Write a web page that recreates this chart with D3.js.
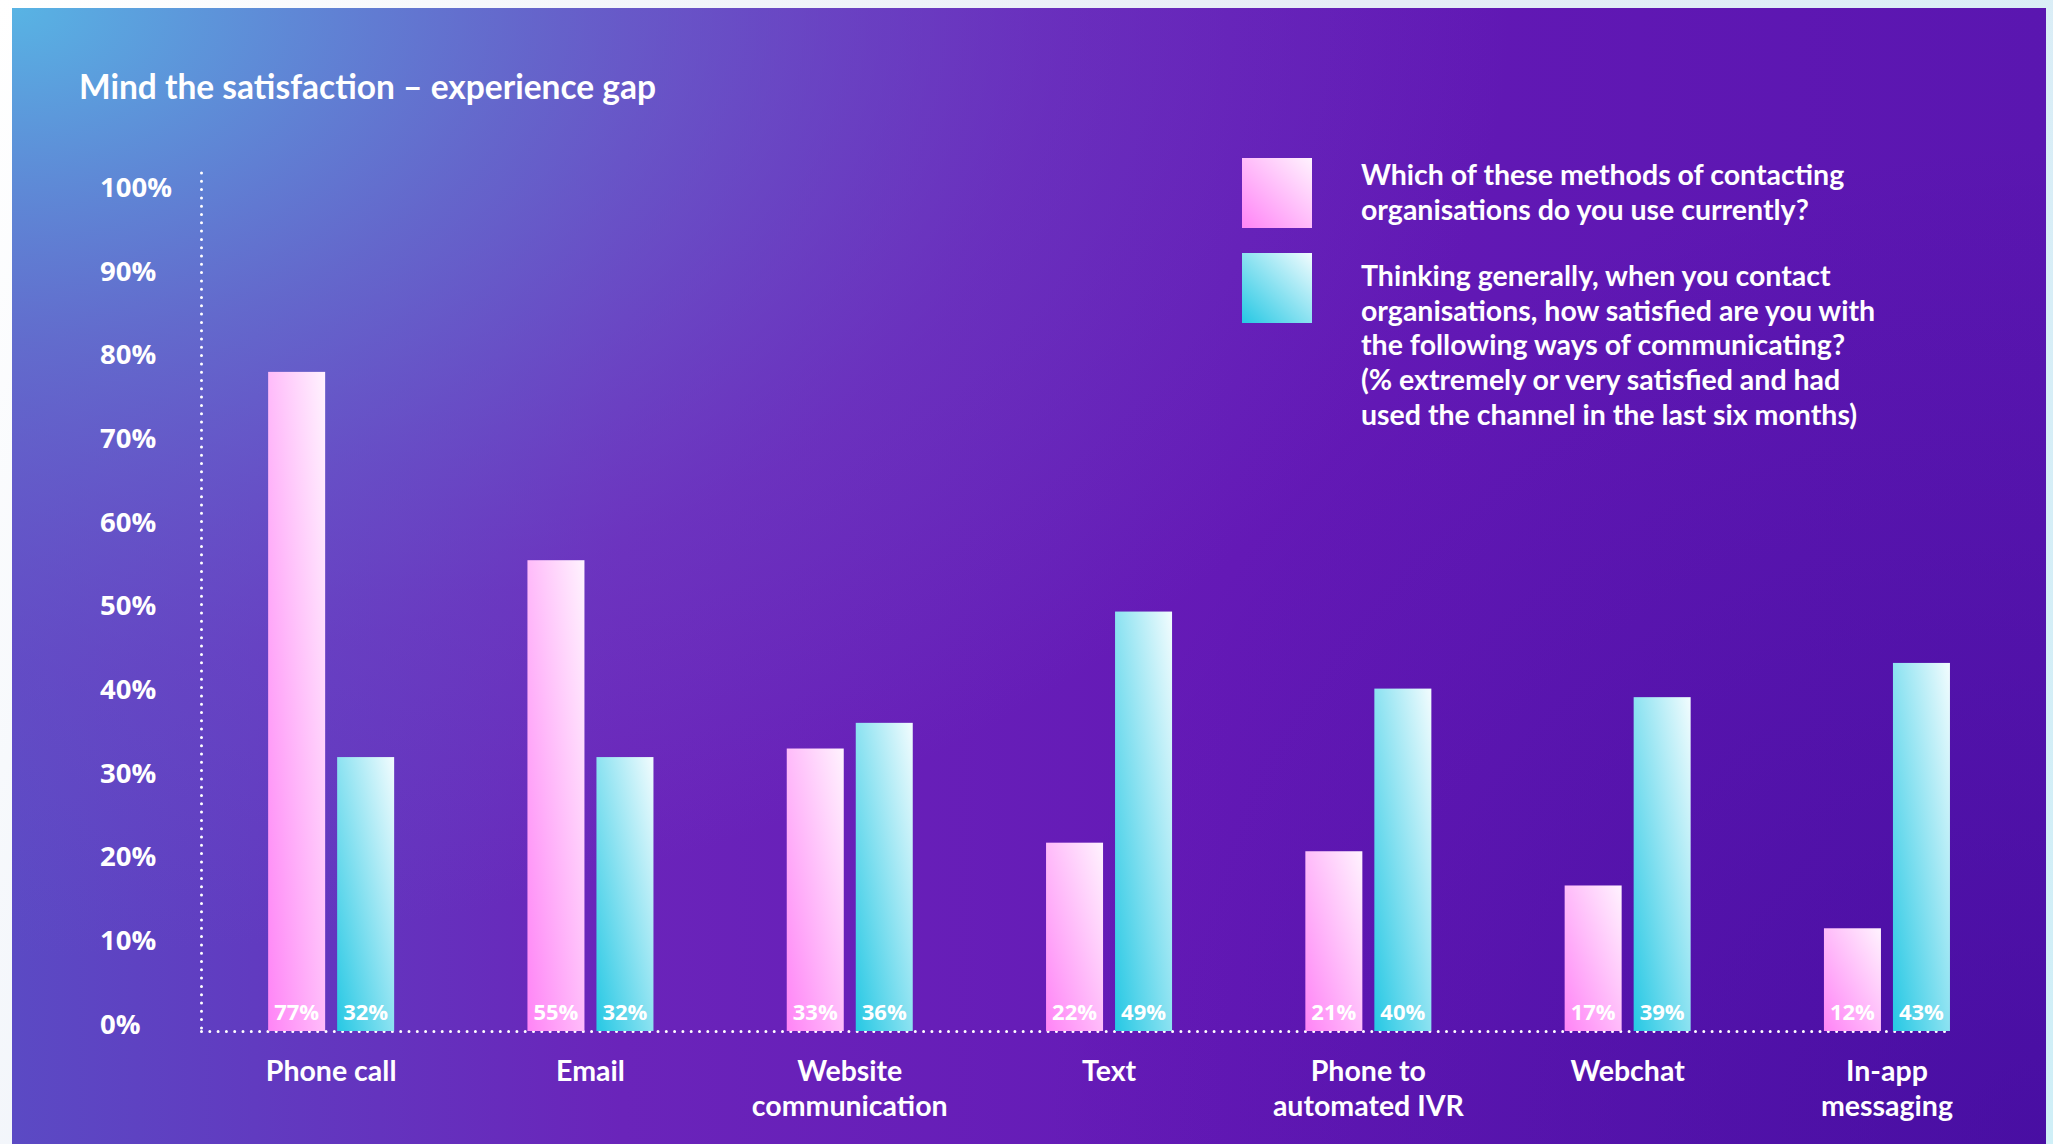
<!DOCTYPE html>
<html>
<head>
<meta charset="utf-8">
<script src="https://cdn.jsdelivr.net/npm/d3@7"></script>
<style>
  html, body { margin: 0; padding: 0; overflow: hidden; background: #ffffff; }
  svg { display: block; }
</style>
</head>
<body>
<div id="chart"></div>
<script>
// ---------- DATA ----------
const title = "Mind the satisfaction \u2013 experience gap";
const categories = ["Phone call", "Email", "Website communication", "Text", "Phone to automated IVR", "Webchat", "In-app messaging"];
const categoryLines = [["Phone call"], ["Email"], ["Website", "communication"], ["Text"], ["Phone to", "automated IVR"], ["Webchat"], ["In-app", "messaging"]];
const seriesKeys = ["use", "satisfied"];
const useValues = [77, 55, 33, 22, 21, 17, 12];
const satisfiedValues = [32, 32, 36, 49, 40, 39, 43];
const yTicks = [0, 10, 20, 30, 40, 50, 60, 70, 80, 90, 100];
const legendLines = [
  ["Which of these methods of contacting", "organisations do you use currently?"],
  ["Thinking generally, when you contact", "organisations, how satisfied are you with", "the following ways of communicating?", "(% extremely or very satisfied and had", "used the channel in the last six months)"]
];

// ---------- LAYOUT ----------
const W = 2053, H = 1144;
const panel = {x: 12, y: 8, w: 2034, h: 1136};
const axisX = 201.5;
const humanist = "Lato, 'Noto Sans', sans-serif";
const geometric = "'Open Sans', 'Noto Sans', sans-serif";

const svg = d3.select("#chart").append("svg").attr("width", W).attr("height", H);
const defs = svg.append("defs");

function linGrad(id, attrs, stops) {
  const g = defs.append("linearGradient").attr("id", id);
  Object.entries(attrs).forEach(([k, v]) => g.attr(k, v));
  stops.forEach(s => g.append("stop").attr("offset", s[0]).attr("stop-color", s[1]).attr("stop-opacity", s[2] == null ? 1 : s[2]));
}
function radGrad(id, attrs, stops) {
  const g = defs.append("radialGradient").attr("id", id);
  Object.entries(attrs).forEach(([k, v]) => g.attr(k, v));
  stops.forEach(s => g.append("stop").attr("offset", s[0]).attr("stop-color", s[1]).attr("stop-opacity", s[2] == null ? 1 : s[2]));
}

linGrad("outer", {gradientUnits: "userSpaceOnUse", x1: 0, y1: 0, x2: W, y2: H},
  [[0, "#ffffff"], [0.5, "#e6ecf6"], [1, "#cfeff7"]]);
linGrad("base", {gradientUnits: "userSpaceOnUse", x1: panel.x, y1: 0, x2: panel.x + panel.w, y2: 0},
  [[0, "#5b4ac4"], [0.3, "#6a24ba"], [0.6, "#6419b6"], [1, "#5a16b0"]]);
radGrad("darkBR", {gradientUnits: "userSpaceOnUse", cx: panel.x + panel.w, cy: H, r: 1000},
  [[0, "#3a0898", 0.55], [1, "#3a0898", 0]]);
radGrad("lightTL", {gradientUnits: "userSpaceOnUse", cx: 0, cy: 0, r: 1,
  gradientTransform: "translate(12,8) scale(1500,950)"},
  [[0, "#58b4e4", 1], [0.35, "#6478d0", 0.75], [0.7, "#7050c8", 0.35], [1, "#7050c8", 0]]);

linGrad("pinkGrad", {x1: 0, y1: 1, x2: 1, y2: 0},
  [[0, "#ff84f6"], [1, "#fff3fe"]]);
linGrad("cyanGrad", {x1: 0, y1: 1, x2: 1, y2: 0},
  [[0, "#26c8e4"], [1, "#f2fcfe"]]);

// background layers
svg.append("rect").attr("width", W).attr("height", H).attr("fill", "url(#outer)");
["base", "darkBR", "lightTL"].forEach(id =>
  svg.append("rect").attr("x", panel.x).attr("y", panel.y).attr("width", panel.w).attr("height", panel.h).attr("fill", `url(#${id})`));

// ---------- SCALES ----------
const y = d3.scaleLinear().domain([0, 100]).range([1031, 175]);
const yLabel = d3.scaleLinear().domain([0, 100]).range([1033, 196.7]);
const x0 = d3.scaleBand().domain(categories).range([axisX, axisX + 7 * 259.3]).padding(0);
const x1 = d3.scaleBand().domain(seriesKeys).range([-63, 63]).paddingInner(0.174).paddingOuter(0);
const center = c => x0(c) + x0.bandwidth() / 2;
const fills = {use: "url(#pinkGrad)", satisfied: "url(#cyanGrad)"};

// title
svg.append("text").attr("x", 79).attr("y", 98.5)
  .attr("font-family", humanist).attr("font-weight", 700).attr("font-size", 33.5)
  .attr("fill", "#ffffff").text(title);

// y axis tick labels
const yAxis = svg.append("g").attr("transform", "translate(100,0)")
  .call(d3.axisLeft(yLabel).tickValues(yTicks).tickSize(0).tickFormat(d => d + "%"));
yAxis.select(".domain").remove();
yAxis.selectAll("text")
  .attr("x", 0).attr("dy", 0).attr("text-anchor", "start")
  .attr("font-family", geometric).attr("font-weight", 700).attr("font-size", 27.5)
  .attr("fill", "#ffffff");

// dotted axis lines
const lastRight = center(categories[categories.length - 1]) + x1("satisfied") + x1.bandwidth();
svg.append("line").attr("x1", axisX).attr("x2", axisX).attr("y1", y(100) - 2).attr("y2", y(0))
  .attr("stroke", "#ffffff").attr("stroke-width", 3).attr("stroke-linecap", "round").attr("stroke-dasharray", "0,8.3");
svg.append("line").attr("x1", axisX).attr("x2", lastRight).attr("y1", y(0) + 0.5).attr("y2", y(0) + 0.5)
  .attr("stroke", "#ffffff").attr("stroke-width", 3).attr("stroke-linecap", "round").attr("stroke-dasharray", "0,8.3");

// bars
const rows = categories.map((c, i) => ({cat: c, values: [
  {key: "use", v: useValues[i]}, {key: "satisfied", v: satisfiedValues[i]}]}));
const groups = svg.append("g").selectAll("g").data(rows).join("g")
  .attr("transform", d => `translate(${center(d.cat)},0)`);
groups.selectAll("rect").data(d => d.values).join("rect")
  .attr("x", d => x1(d.key)).attr("width", x1.bandwidth())
  .attr("y", d => y(d.v)).attr("height", d => y(0) - y(d.v))
  .attr("fill", d => fills[d.key]);
groups.selectAll("text.val").data(d => d.values).join("text").attr("class", "val")
  .attr("x", d => x1(d.key) + x1.bandwidth() / 2).attr("y", 1019.5)
  .attr("text-anchor", "middle")
  .attr("font-family", geometric).attr("font-weight", 700).attr("font-size", 22)
  .attr("fill", "#ffffff").text(d => d.v + "%");

// category labels
const catText = svg.append("g").selectAll("text").data(categories).join("text")
  .attr("x", d => center(d)).attr("y", 1080.5).attr("text-anchor", "middle")
  .attr("font-family", humanist).attr("font-weight", 700).attr("font-size", 28.5)
  .attr("fill", "#ffffff");
catText.selectAll("tspan").data((d, i) => categoryLines[i]).join("tspan")
  .attr("x", function() { return d3.select(this.parentNode).attr("x"); })
  .attr("dy", (d, i) => i === 0 ? 0 : 35).text(d => d);

// legend
const legendSwatchY = [158, 253];
const legendTextY = [185, 285.8];
const legendFills = [fills.use, fills.satisfied];
const legend = svg.append("g").selectAll("g").data(legendLines).join("g");
legend.append("rect").attr("x", 1242).attr("y", (d, i) => legendSwatchY[i])
  .attr("width", 70).attr("height", 70).attr("fill", (d, i) => legendFills[i]);
legend.append("text").attr("x", 1361).attr("y", (d, i) => legendTextY[i])
  .attr("font-family", humanist).attr("font-weight", 700).attr("font-size", 28.5)
  .attr("fill", "#ffffff")
  .selectAll("tspan").data(d => d).join("tspan")
  .attr("x", 1361).attr("dy", (d, i) => i === 0 ? 0 : 34.7).text(d => d);
</script>
</body>
</html>
